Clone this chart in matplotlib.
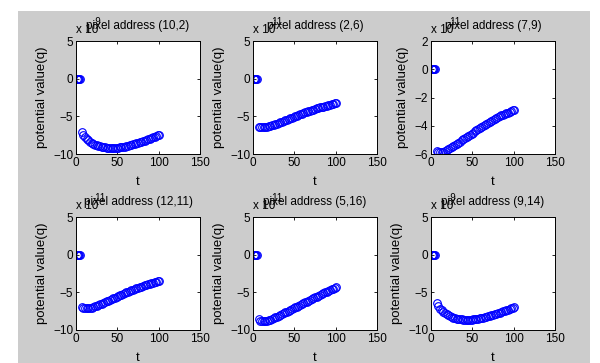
import matplotlib
matplotlib.use("Agg")
import matplotlib.pyplot as plt
from matplotlib.patches import Rectangle
from matplotlib.transforms import ScaledTranslation

plt.rcParams['font.family'] = ['Liberation Sans', 'DejaVu Sans']

# ---------------- data ----------------
t_zero = [1, 2, 3, 4, 5]
v_zero = [0, 0, 0, 0, 0]
t_curve = list(range(7, 102, 2))

titles = ["pixel address (10,2)", "pixel address (2,6)", "pixel address (7,9)",
          "pixel address (12,11)", "pixel address (5,16)", "pixel address (9,14)"]
exponents = ["-9", "-11", "-11", "-11", "-11", "-9"]
ylims = [(-10, 5), (-10, 5), (-6, 2), (-10, 5), (-10, 5), (-10, 5)]
yticks_list = [[-10, -5, 0, 5], [-10, -5, 0, 5], [-6, -4, -2, 0, 2],
               [-10, -5, 0, 5], [-10, -5, 0, 5], [-10, -5, 0, 5]]
xticks = [0, 50, 100, 150]

v1 = [-7.05, -7.45, -7.75, -8.0, -8.2, -8.38, -8.53, -8.66, -8.77, -8.86, -8.94, -9.0,
      -9.05, -9.09, -9.12, -9.15, -9.17, -9.18, -9.19, -9.19, -9.18, -9.17, -9.15, -9.12,
      -9.09, -9.05, -9.01, -8.96, -8.91, -8.85, -8.79, -8.73, -8.66, -8.59, -8.52, -8.45,
      -8.37, -8.29, -8.21, -8.13, -8.05, -7.97, -7.88, -7.79, -7.7, -7.61, -7.52, -7.43]
v2 = [-6.45, -6.47, -6.47, -6.45, -6.42, -6.38, -6.33, -6.27, -6.2, -6.13, -6.05, -5.97,
      -5.89, -5.81, -5.72, -5.63, -5.54, -5.45, -5.36, -5.27, -5.18, -5.09, -5.0, -4.91,
      -4.82, -4.73, -4.64, -4.56, -4.48, -4.4, -4.32, -4.24, -4.17, -4.1, -4.03, -3.96,
      -3.89, -3.82, -3.76, -3.7, -3.64, -3.58, -3.52, -3.46, -3.4, -3.34, -3.28, -3.22]
v3 = [-5.8, -5.85, -5.88, -5.88, -5.85, -5.8, -5.74, -5.67, -5.6, -5.52, -5.44, -5.36,
      -5.28, -5.2, -5.12, -5.04, -4.96, -4.88, -4.8, -4.72, -4.64, -4.56, -4.48, -4.4,
      -4.32, -4.24, -4.16, -4.08, -4.0, -3.92, -3.85, -3.78, -3.71, -3.64, -3.57, -3.51,
      -3.45, -3.39, -3.33, -3.27, -3.22, -3.17, -3.12, -3.07, -3.02, -2.97, -2.92, -2.87]
v4 = [-6.9, -7.05, -7.12, -7.14, -7.12, -7.08, -7.02, -6.95, -6.87, -6.78, -6.69, -6.6,
      -6.5, -6.4, -6.3, -6.2, -6.1, -6.0, -5.9, -5.8, -5.7, -5.6, -5.5, -5.4,
      -5.3, -5.2, -5.11, -5.02, -4.93, -4.84, -4.75, -4.66, -4.57, -4.49, -4.41, -4.33,
      -4.25, -4.17, -4.09, -4.01, -3.94, -3.87, -3.8, -3.73, -3.66, -3.59, -3.52, -3.45]
v5 = [-8.6, -8.75, -8.82, -8.84, -8.82, -8.77, -8.7, -8.62, -8.53, -8.43, -8.33, -8.22,
      -8.11, -8.0, -7.89, -7.78, -7.67, -7.56, -7.45, -7.34, -7.23, -7.12, -7.0, -6.89,
      -6.78, -6.67, -6.56, -6.45, -6.34, -6.23, -6.12, -6.01, -5.9, -5.79, -5.68, -5.57,
      -5.46, -5.35, -5.24, -5.13, -5.02, -4.91, -4.81, -4.71, -4.61, -4.51, -4.41, -4.31]
v6 = [-6.45, -6.85, -7.15, -7.4, -7.6, -7.78, -7.93, -8.06, -8.17, -8.27, -8.35, -8.42,
      -8.48, -8.53, -8.57, -8.6, -8.62, -8.63, -8.64, -8.64, -8.63, -8.62, -8.6, -8.57,
      -8.54, -8.5, -8.46, -8.41, -8.36, -8.31, -8.25, -8.19, -8.13, -8.06, -7.99, -7.92,
      -7.85, -7.78, -7.7, -7.62, -7.54, -7.46, -7.38, -7.3, -7.22, -7.14, -7.05, -6.96]
series = [v1, v2, v3, v4, v5, v6]

# ---------------- figure ----------------
W, H = 600, 363
fig = plt.figure(figsize=(W / 100, H / 100), dpi=100, facecolor='white')
fig.patches.append(Rectangle((18 / W, 0), (590 - 18) / W, (H - 11) / H,
                             transform=fig.transFigure, facecolor='#cccccc',
                             edgecolor='none', zorder=-10))

lefts = [76, 253, 431]
tops = [41, 217]
aw, ah = 124, 113

for i in range(6):
    r, c = divmod(i, 3)
    x0 = lefts[c]
    y0 = tops[r]
    ax = fig.add_axes([x0 / W, 1 - (y0 + ah) / H, aw / W, ah / H])
    ax.set_facecolor('white')
    ax.plot(t_zero, v_zero, 'o', mfc='none', mec='blue', ms=5.5, mew=0.8)
    ax.plot(t_curve, series[i], 'o', mfc='none', mec='blue', ms=5.5, mew=0.8)
    ax.set_xlim(0, 150)
    ax.set_ylim(*ylims[i])
    ax.set_xticks(xticks)
    ax.set_yticks(yticks_list[i])
    ax.tick_params(direction='in', length=2.5, width=0.6, top=True, right=True,
                   labelsize=8.5, pad=2, colors='black')
    for s in ax.spines.values():
        s.set_linewidth(0.7)
    ax.set_xlabel('t', fontsize=9.5, labelpad=5)
    ax.set_ylabel('potential value(q)', fontsize=9.5, labelpad=4)
    ax.set_title(titles[i], fontsize=8.5, pad=9)
    tr = ax.transAxes
    ax.text(0, 1, 'x 10', fontsize=8.5, ha='left', va='baseline',
            transform=tr + ScaledTranslation(0, 8 / 100, fig.dpi_scale_trans))
    ax.text(0, 1, exponents[i], fontsize=7, ha='left', va='baseline',
            transform=tr + ScaledTranslation(17 / 100, 16 / 100, fig.dpi_scale_trans))

fig.savefig('out.png', dpi=100, facecolor=fig.get_facecolor())
